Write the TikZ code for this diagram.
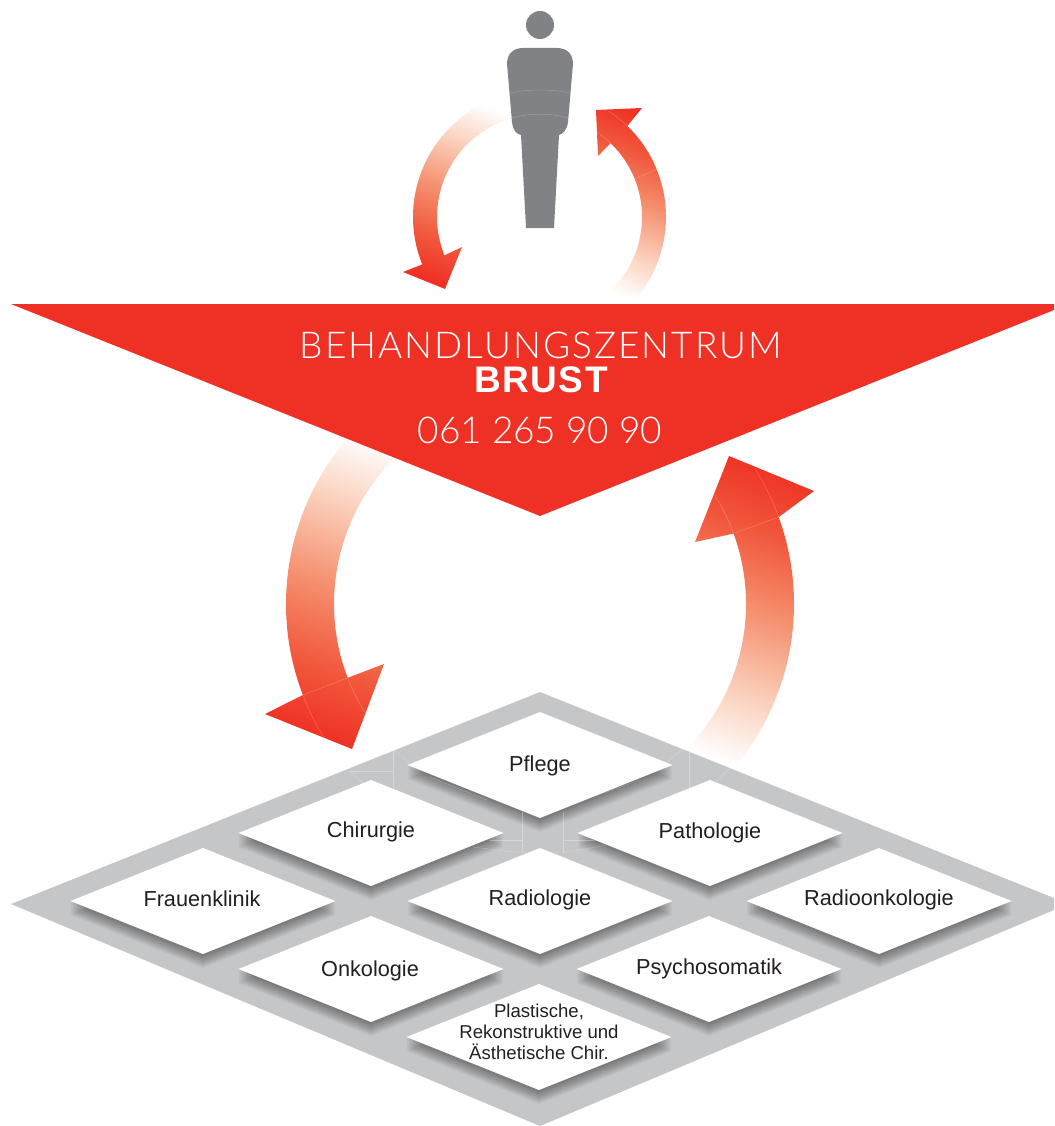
\documentclass[tikz,border=0pt]{standalone}
\usepackage{fontspec}
\setmainfont{Liberation Sans}
\newfontfamily\lightf[LetterSpace=5.4]{Lato Light}
\newfontfamily\lightn{Lato Light}
\newfontfamily\boldw[LetterSpace=4.3]{Liberation Sans Bold}
\usetikzlibrary{calc}
\definecolor{rd}{HTML}{EF3024}
\definecolor{grd}{HTML}{C5C6C8}
\definecolor{pers}{HTML}{808285}
\definecolor{txt}{HTML}{231F20}
\definecolor{midr}{HTML}{F58F6E}
\definecolor{rdb}{HTML}{F1563A}
\definecolor{palr}{HTML}{FBD3C0}
\pgfdeclareverticalshading{fadeB}{100bp}{color(0bp)=(rd); color(23bp)=(rd); color(35bp)=(rdb); color(50bp)=(midr); color(66bp)=(palr); color(78bp)=(white); color(100bp)=(white)}
\pgfdeclareverticalshading{fadeT}{100bp}{color(0bp)=(white); color(24bp)=(white); color(36bp)=(palr); color(52bp)=(midr); color(66bp)=(rdb); color(78bp)=(rd); color(100bp)=(rd)}
\tikzset{
  fadearrowB/.style={shading=fadeB,shading angle=-20,draw=none},
  fadearrowT/.style={shading=fadeT,shading angle=-20,draw=none},
  hair/.style={draw=white,line width=.35pt,opacity=.3},
  lab/.style={font=\fontsize{21.7}{24}\selectfont,text=txt,inner sep=0pt,anchor=center}
}
\newcommand{\cell}[2]{%
  \begin{scope}[shift={(#1,#2)}]
    \foreach \i in {1,...,14}{
      \fill[black,opacity=.033] (-132.5,\i) -- (0,-53+\i) -- (132.5,\i) -- (0,53+\i) -- cycle;
    }
  \end{scope}
}
\newcommand{\cellw}[2]{%
  \fill[white,shift={(#1,#2)}] (-132.5,0) -- (0,-53) -- (132.5,0) -- (0,53) -- cycle;
}
\begin{document}
\begin{tikzpicture}[x=1pt,y=1pt,yscale=-1]
\useasboundingbox (0,0) rectangle (1054,1126);
\coordinate (cs) at (539.5,217);
\coordinate (cb) at (540,604);
% small arrows
\shade[fadearrowB] ($(cs)+(250:126.5)$) arc[start angle=250,end angle=158,radius=126.5]
  -- (403,272) -- (445,289) -- (462,247) -- ($(cs)+(158:102.5)$) arc[start angle=158,end angle=250,radius=102.5] -- cycle;
\shade[fadearrowT] ($(cs)+(46:126.5)$) arc[start angle=46,end angle=-46,radius=126.5]
  -- (642,108) -- (596,110) -- (598,156) -- ($(cs)+(-46:102.5)$) arc[start angle=-46,end angle=46,radius=102.5] -- cycle;
% big arrows
\shade[fadearrowB] ($(cb)+(225:254)$) arc[start angle=225,end angle=159,radius=254]
  -- (265,714) -- (352,749) -- (384,664) -- ($(cb)+(159:206)$) arc[start angle=159,end angle=225,radius=206] -- cycle;
\shade[fadearrowT] ($(cb)+(45:254)$) arc[start angle=45,end angle=-20,radius=254]
  -- (814,491) -- (729,456) -- (695,542) -- ($(cb)+(-20:206)$) arc[start angle=-20,end angle=45,radius=206] -- cycle;
% hairlines in arrow heads
\draw[hair] ($(cb)+(159:254)$) -- ($(cb)+(159:206)$);
\draw[hair] ($(cb)+(159:254)$) arc[start angle=159,end angle=148,radius=254];
\draw[hair] ($(cb)+(159:206)$) arc[start angle=159,end angle=148,radius=206];
\draw[hair] ($(cb)+(-20:254)$) -- ($(cb)+(-20:206)$);
\draw[hair] ($(cb)+(-20:254)$) arc[start angle=-20,end angle=-32,radius=254];
\draw[hair] ($(cb)+(-20:206)$) arc[start angle=-20,end angle=-32,radius=206];
\draw[hair] ($(cs)+(-22:126.5)$) -- ($(cs)+(-22:102.5)$);
\draw[hair] ($(cs)+(-46:126.5)$) arc[start angle=-46,end angle=-57,radius=126.5];
\draw[hair] ($(cs)+(-46:102.5)$) arc[start angle=-46,end angle=-56,radius=102.5];
% person
\fill[pers] (540,25) circle[radius=14];
\fill[pers] (523,48) -- (557,48) .. controls (567,48) and (573,54) .. (573,64)
  -- (568,122) .. controls (567,130) and (563,134) .. (559,135)
  -- (554,228) -- (526,228) -- (521,135)
  .. controls (516,134) and (513,130) .. (512,122) -- (507,64)
  .. controls (507,54) and (513,48) .. (523,48) -- cycle;
\draw[hair] (510,93) .. controls (528,89) and (552,89) .. (570,93);
\draw[hair] (512,118) .. controls (528,113) and (552,113) .. (568,118);
% banner
\fill[rd] (11,304) -- (1054,304) -- (1054,310) -- (540,516) -- cycle;
\node[font=\lightf\fontsize{37}{38}\selectfont,text=white,inner sep=0pt] (title) at (541,345) {BEHANDLUNGSZENTRUM};
\node[font=\boldw\fontsize{37}{38}\selectfont,text=white,inner sep=0pt] (brust) at (541,380) {BRUST};
\node[font=\lightn\fontsize{37}{38}\selectfont,text=white,inner sep=0pt] (phone) at (540,430) {061 265 90 90};
% grid
\fill[grd] (540,692) -- (1054,898) -- (1054,910) -- (540,1126) -- (11,904) -- cycle;
\foreach \p/\q in {540/765,371/833,710/833,203/901,540/901,879/901,371/969,709/969,539/1037}{\cell{\p}{\q}}
\foreach \p/\q in {540/765,371/833,710/833,203/901,540/901,879/901,371/969,709/969,539/1037}{\cellw{\p}{\q}}
\draw[hair] (393,750) -- (393,788);
\draw[hair] (689,752) -- (689,790);
\draw[hair] (350,771) -- (393,771);
\draw[hair] (393,749) -- (410,763);
\draw[hair] (682,749) -- (667,763);
\draw[hair] (350,771) -- (363,783);
\draw[hair] (715,783) -- (730,768);
\draw[hair] (430,777) -- (487,800);
\draw[hair] (593,797) -- (640,780);
\draw[hair] (522,812) -- (522,853);
\draw[hair] (563,812) -- (563,853);
\draw[hair] (490,840) -- (522,840);
\draw[hair] (563,840) -- (595,840);
\draw[hair] (473,847) -- (522,853);
\draw[hair] (563,853) -- (607,845);
% labels
\node[lab] (pflege) at (540,766) {Pflege};
\node[lab] (chir) at (371,832) {Chirurgie};
\node[lab] (path) at (710,832.5) {Pathologie};
\node[lab] (frau) at (202,899) {Frauenklinik};
\node[lab] (rad) at (540,900) {Radiologie};
\node[lab] (radon) at (879,900) {Radioonkologie};
\node[lab] (onko) at (370,970.5) {Onkologie};
\node[lab] (psy) at (709,968.5) {Psychosomatik};
\node[font=\fontsize{18.6}{21}\selectfont,text=txt,inner sep=0pt,align=center] (plast) at (539,1032) {Plastische,\\Rekonstruktive und\\Ästhetische Chir.};
\end{tikzpicture}
\end{document}
